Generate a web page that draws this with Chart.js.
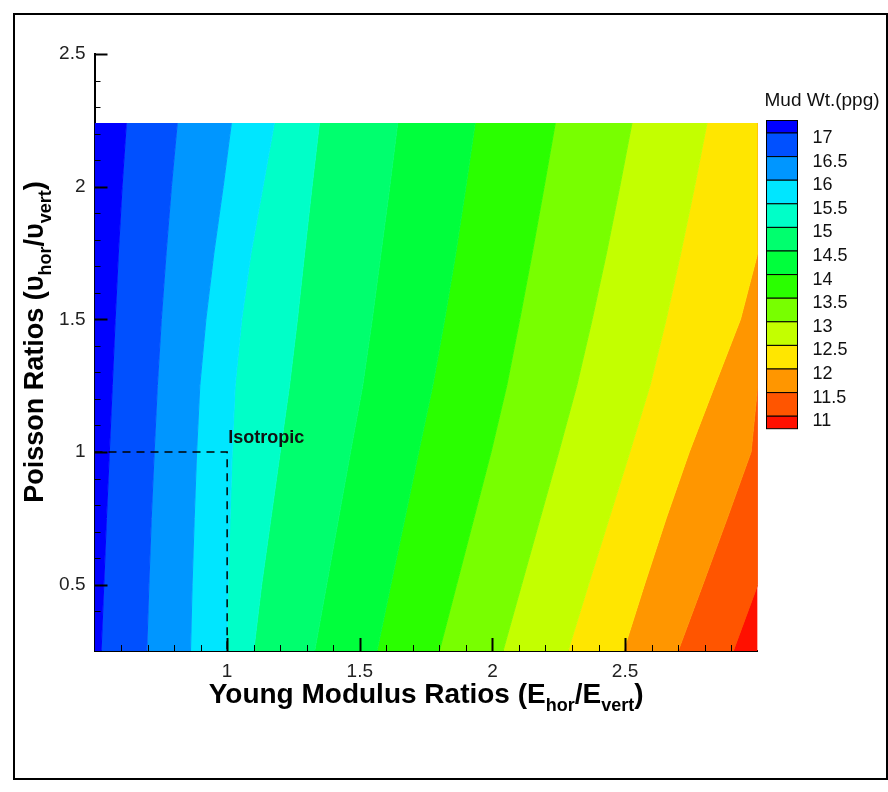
<!DOCTYPE html>
<html>
<head>
<meta charset="utf-8">
<script src="https://cdn.jsdelivr.net/npm/chart.js@4.4.1/dist/chart.umd.min.js"></script>
<style>
  html, body { margin: 0; padding: 0; background: #fff; }
  #wrap { position: relative; width: 888px; height: 792px; }
  #frame { position: absolute; left: 13px; top: 13px; width: 871px; height: 763px; border: 2px solid #000; pointer-events: none; }
</style>
</head>
<body>
<div id="wrap">
  <canvas id="mudWeight" width="888" height="792" style="width:888px;height:792px"></canvas>
  <div id="frame"></div>
</div>
<script>
// contour levels of mud weight (ppg), from high to low
const levels = [17, 16.5, 16, 15.5, 15, 14.5, 14, 13.5, 13, 12.5, 12, 11.5, 11];
// colour of each band: >17, 16.5-17, ... , 11-11.5, <11
const bandColors = ['#0000ff', '#0050ff', '#0096ff', '#00e6ff', '#00ffc8', '#00ff6e', '#00ff3c',
                    '#2aff00', '#78ff00', '#c3ff00', '#ffe600', '#ff9600', '#ff5500', '#ff1000'];

// rows (Poisson ratio) where the contour lines were read
const poissonRatio = [0.25, 0.5, 0.75, 1.0, 1.25, 1.5, 1.75, 2.0, 2.24];

// Young modulus ratio where each contour crosses those rows
const contour17   = [0.525, 0.535, 0.545, 0.556, 0.567, 0.578, 0.590, 0.604, 0.620];
const contour16_5 = [0.697, 0.705, 0.714, 0.725, 0.737, 0.752, 0.770, 0.790, 0.812];
const contour16   = [0.862, 0.868, 0.876, 0.885, 0.897, 0.920, 0.950, 0.985, 1.016];
const contour15_5 = [0.998, 1.004, 1.011, 1.019, 1.030, 1.055, 1.090, 1.135, 1.178];
const contour15   = [1.100, 1.130, 1.165, 1.200, 1.235, 1.265, 1.292, 1.320, 1.348];
const contour14_5 = [1.330, 1.375, 1.420, 1.465, 1.511, 1.547, 1.580, 1.613, 1.643];
const contour14   = [1.565, 1.617, 1.670, 1.722, 1.775, 1.820, 1.862, 1.900, 1.935];
const contour13_5 = [1.800, 1.865, 1.930, 1.995, 2.054, 2.103, 2.150, 2.195, 2.237];
const contour13   = [2.040, 2.110, 2.180, 2.250, 2.318, 2.376, 2.430, 2.480, 2.526];
const contour12_5 = [2.285, 2.362, 2.440, 2.518, 2.594, 2.655, 2.710, 2.762, 2.809];
const contour12   = [2.494, 2.573, 2.655, 2.742, 2.838, 2.935, 3.0, 3.0, 3.0];
const contour11_5 = [2.700, 2.793, 2.885, 2.975, 3.0, 3.0, 3.0, 3.0, 3.0];
const contour11   = [2.908, 3.0, 3.0, 3.0, 3.0, 3.0, 3.0, 3.0, 3.0];

const contourX = [contour17, contour16_5, contour16, contour15_5, contour15, contour14_5, contour14,
                  contour13_5, contour13, contour12_5, contour12, contour11_5, contour11];

// isotropic case marked with dashed lines
const isoX = [0.5, 1, 1];
const isoY = [1, 1, 0.25];

const xTickLabels = [1, 1.5, 2, 2.5];
const yTickLabels = [0.5, 1, 1.5, 2, 2.5];

const xMin = 0.5, xMax = 3.0, yMin = 0.25, yMax = 2.5;

const datasets = levels.map((lev, i) => ({
  label: lev + ' ppg',
  data: poissonRatio.map((p, j) => ({ x: contourX[i][j], y: p })),
  backgroundColor: bandColors[i],
  borderColor: bandColors[i],
  borderWidth: 1,
  pointRadius: 0,
  tension: 0,
  fill: i === 0 ? { value: xMin } : '-1'
}));

// last band (< 11) from the 11 contour to the right edge
datasets.push({
  label: '< 11 ppg',
  data: poissonRatio.map((p, j) => ({ x: contour11[j], y: p })),
  backgroundColor: bandColors[13],
  borderColor: bandColors[13],
  borderWidth: 1,
  pointRadius: 0,
  tension: 0,
  fill: { value: xMax }
});

datasets.push({
  label: 'Isotropic',
  data: isoX.map((x, i) => ({ x: x, y: isoY[i] })),
  borderColor: '#000',
  borderWidth: 1.5,
  borderDash: [8, 6],
  pointRadius: 0,
  fill: false,
  order: -1
});

// ticks pointing into the plot, like the original
const inwardTicks = {
  id: 'inwardTicks',
  afterDatasetsDraw(chart) {
    const { ctx, chartArea: a, scales: { x, y } } = chart;
    ctx.save();
    ctx.strokeStyle = '#000';
    for (let k = Math.round(xMin * 10) + 1; k < Math.round(xMax * 10); k++) {
      const major = k % 5 === 0;
      const px = Math.round(x.getPixelForValue(k / 10)) + 0.5;
      ctx.lineWidth = major ? 2 : 1;
      ctx.beginPath();
      ctx.moveTo(px, a.bottom);
      ctx.lineTo(px, a.bottom - (major ? 13 : 6));
      ctx.stroke();
    }
    for (let k = Math.round(yMin * 10) + 1; k <= Math.round(yMax * 10); k++) {
      const major = k % 5 === 0;
      const py = Math.round(y.getPixelForValue(k / 10)) + 0.5;
      ctx.lineWidth = major ? 2 : 1;
      ctx.beginPath();
      ctx.moveTo(a.left, py);
      ctx.lineTo(a.left + (major ? 13 : 6), py);
      ctx.stroke();
    }
    // label of the dashed lines
    ctx.fillStyle = '#111';
    ctx.font = 'bold 18px "Liberation Sans", Arial, sans-serif';
    ctx.textBaseline = 'alphabetic';
    ctx.textAlign = 'left';
    ctx.fillText('Isotropic', x.getPixelForValue(1) + 1, y.getPixelForValue(1) - 9);
    ctx.restore();
  }
};

function richWidth(ctx, parts, size, subSize) {
  let w = 0;
  parts.forEach(p => {
    ctx.font = 'bold ' + (p.sub ? subSize : size) + 'px "Liberation Sans", Arial, sans-serif';
    w += ctx.measureText(p.t).width;
  });
  return w;
}

function drawRich(ctx, parts, cx, baseY, size, subSize) {
  let px = cx - richWidth(ctx, parts, size, subSize) / 2;
  parts.forEach(p => {
    ctx.font = 'bold ' + (p.sub ? subSize : size) + 'px "Liberation Sans", Arial, sans-serif';
    ctx.fillText(p.t, px, baseY + (p.sub ? size * 0.28 : 0));
    px += ctx.measureText(p.t).width;
  });
}

const xTitle = [{ t: 'Young Modulus Ratios (E' }, { t: 'hor', sub: true }, { t: '/E' }, { t: 'vert', sub: true }, { t: ')' }];
const yTitle = [{ t: 'Poisson Ratios (υ' }, { t: 'hor', sub: true }, { t: '/υ' }, { t: 'vert', sub: true }, { t: ')' }];

const axisTitles = {
  id: 'axisTitles',
  afterDraw(chart) {
    const { ctx, chartArea: a } = chart;
    ctx.save();
    ctx.fillStyle = '#000';
    ctx.textAlign = 'left';
    ctx.textBaseline = 'alphabetic';
    drawRich(ctx, xTitle, (a.left + a.right) / 2, a.bottom + 52, 28, 18);
    ctx.translate(43, a.top + 288);
    ctx.rotate(-Math.PI / 2);
    drawRich(ctx, yTitle, 0, 0, 27, 18);
    ctx.restore();
  }
};

const colorBar = {
  id: 'colorBar',
  afterDraw(chart) {
    const { ctx, chartArea: a } = chart;
    const left = Math.round(a.right) + 8.5, w = 31, first = a.top + 79, step = 23.6, half = 12.5;
    ctx.save();
    ctx.strokeStyle = '#000';
    ctx.lineWidth = 1;
    for (let i = 0; i < bandColors.length; i++) {
      const y0 = i === 0 ? first - half : first + (i - 1) * step;
      const y1 = i === bandColors.length - 1 ? y0 + half : first + i * step;
      ctx.fillStyle = bandColors[i];
      ctx.fillRect(left, y0, w, y1 - y0);
      ctx.strokeRect(left, y0, w, y1 - y0);
    }
    ctx.fillStyle = '#111';
    ctx.textAlign = 'left';
    ctx.textBaseline = 'middle';
    ctx.font = '18px "Liberation Sans", Arial, sans-serif';
    levels.forEach((lev, i) => ctx.fillText(String(lev), left + 46, first + i * step + 5));
    ctx.font = '19px "Liberation Sans", Arial, sans-serif';
    ctx.fillText('Mud Wt.(ppg)', left - 2, a.top + 47);
    ctx.restore();
  }
};

new Chart(document.getElementById('mudWeight'), {
  type: 'line',
  data: { datasets: datasets },
  plugins: [inwardTicks, axisTitles, colorBar],
  options: {
    responsive: false,
    animation: false,
    indexAxis: 'y',
    layout: { padding: { left: 48.5, right: 130.3, top: 54, bottom: 107 } },
    plugins: {
      legend: { display: false },
      tooltip: { enabled: false },
      filler: { propagate: false }
    },
    scales: {
      x: {
        type: 'linear',
        min: xMin,
        max: xMax,
        afterBuildTicks: s => { s.ticks = xTickLabels.map(v => ({ value: v })); },
        afterFit: s => { s.height = 34; },
        grid: { display: false, drawTicks: false },
        border: { display: true, color: '#000', width: 2 },
        ticks: {
          autoSkip: false,
          maxRotation: 0,
          padding: 9,
          color: '#222',
          font: { family: '"Liberation Sans", Arial, sans-serif', size: 19 },
          callback: v => String(v)
        }
      },
      y: {
        type: 'linear',
        min: yMin,
        max: yMax,
        afterBuildTicks: s => { s.ticks = yTickLabels.map(v => ({ value: v })); },
        afterFit: s => { s.width = 46; },
        grid: { display: false, drawTicks: false },
        border: { display: true, color: '#000', width: 2 },
        ticks: {
          autoSkip: false,
          padding: 9,
          color: '#222',
          font: { family: '"Liberation Sans", Arial, sans-serif', size: 19 },
          callback: v => String(v)
        }
      }
    }
  }
});
</script>
</body>
</html>
